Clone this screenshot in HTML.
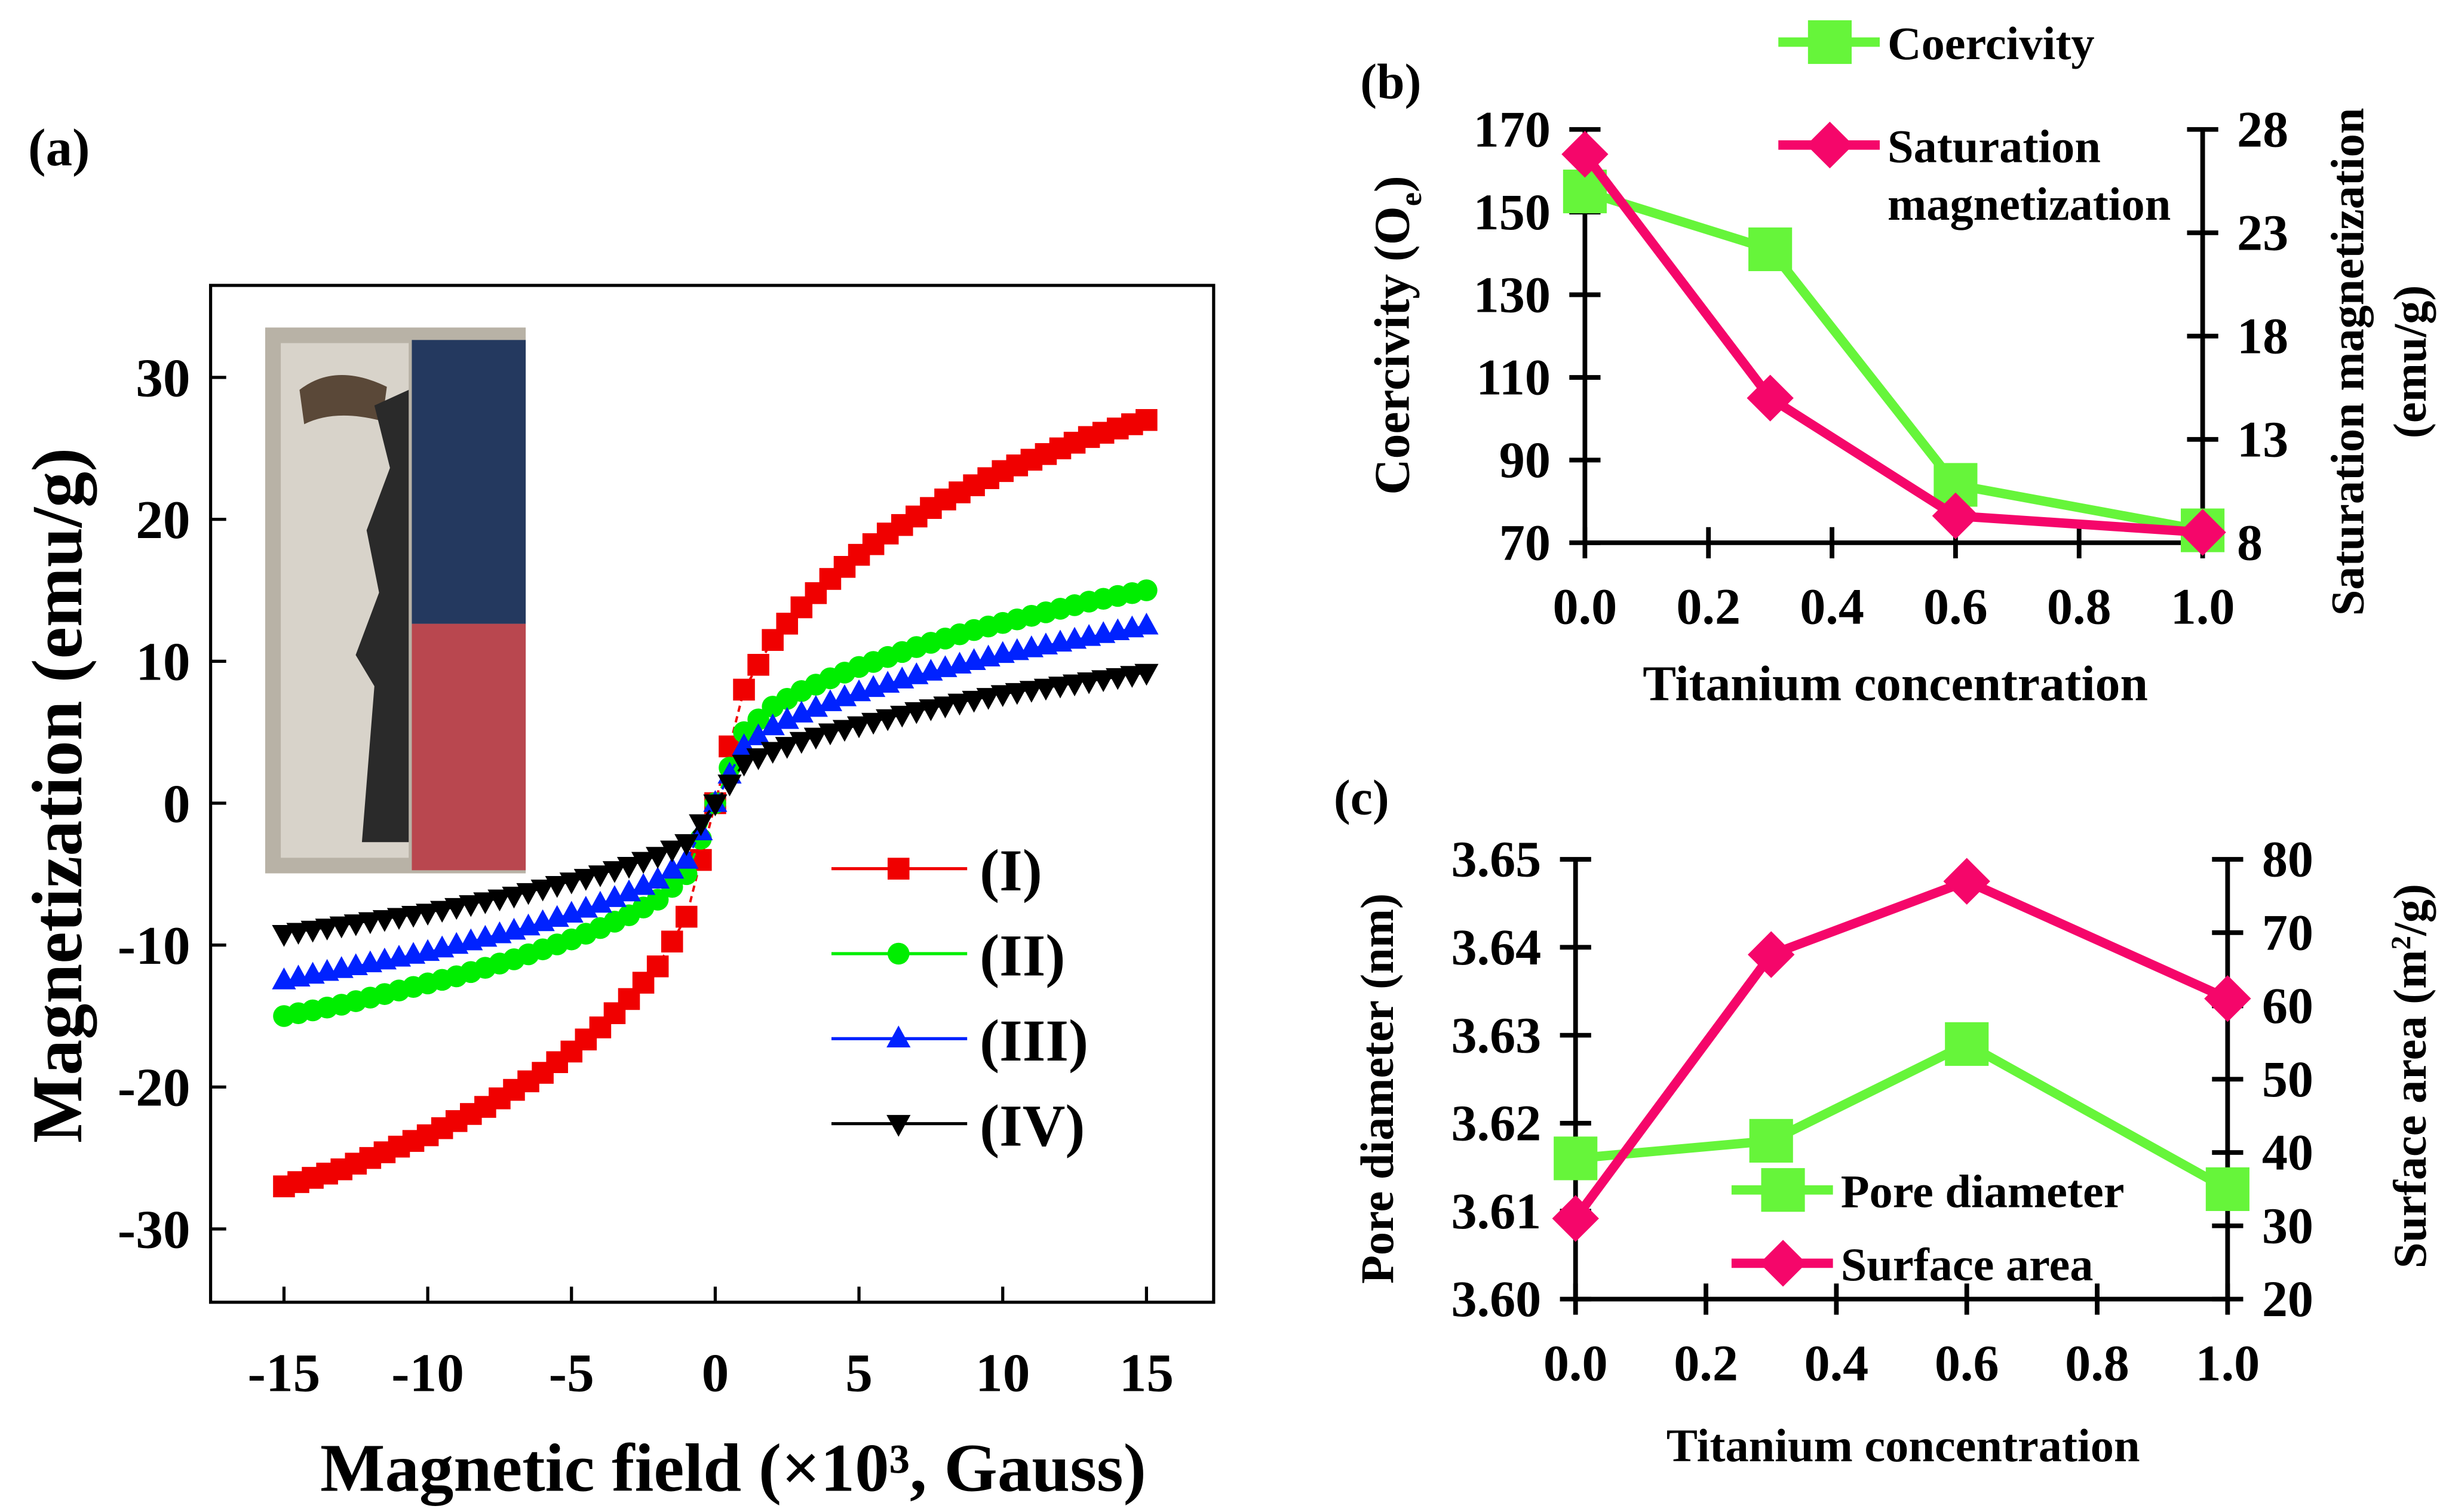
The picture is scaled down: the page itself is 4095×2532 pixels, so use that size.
<!DOCTYPE html>
<html><head><meta charset="utf-8"><style>
html,body{margin:0;padding:0;background:#fff}
svg{display:block}
text{font-family:"Liberation Serif",serif;font-weight:bold;fill:#000}
</style></head><body>
<svg id="fig" xmlns="http://www.w3.org/2000/svg" width="4095" height="2532" viewBox="0 0 1568 969.5" preserveAspectRatio="none">
<g id="pa"></g>
<g id="pb"></g>
<g id="pc"></g>
</svg>
<script>
// ---- Panel (a) data ----
const fieldA = [0,1,2,3,4,5,6,7,8,9,10,11,12,13,14,15];
const magI   = [0,8,11.5,13.8,15.8,17.5,19,20.2,21.4,22.4,23.4,24.2,25,25.8,26.4,27];
const magII  = [0,5,6.8,7.9,8.8,9.6,10.3,11,11.6,12.2,12.7,13.2,13.7,14.2,14.6,15];
const magIII = [0,4,5.4,6.3,7.1,7.8,8.4,9,9.5,10,10.5,10.9,11.3,11.7,12.1,12.5];
const magIV  = [0,2.8,3.7,4.4,5,5.5,6,6.5,6.9,7.3,7.7,8,8.3,8.6,8.9,9.2];
const xTicksA = [-15,-10,-5,0,5,10,15];
const yTicksA = [30,20,10,0,-10,-20,-30];
// ---- Panel (b) data ----
const tiConc = [0,0.3,0.6,1.0];
const coercivity = [155,141,84,73];
const satMag = [26.8,15,9.3,8.5];
const xTicksB = [0,0.2,0.4,0.6,0.8,1.0];
const yLeftB = [70,90,110,130,150,170];
const yRightB = [8,13,18,23,28];
// ---- Panel (c) data ----
const poreDia = [3.616,3.618,3.629,3.6125];
const surfArea = [31,67,77,61];
const yLeftC = [3.60,3.61,3.62,3.63,3.64,3.65];
const yRightC = [20,30,40,50,60,70,80];

const NS="http://www.w3.org/2000/svg";
function mk(p,tag,at,txt){const e=document.createElementNS(NS,tag);for(const k in at)e.setAttribute(k,at[k]);if(txt!==undefined)e.textContent=txt;p.appendChild(e);return e;}
const GREEN="#66f53a", PINK="#f5066a";

// ===== Panel a =====
const pa=document.getElementById('pa');
const xa=v=>458.5+v*18.43, ya=v=>515-v*9.1;
let e;
e=mk(pa,'rect',{x:135,y:183,width:643,height:652,fill:'none',stroke:'#000','stroke-width':2});


e=mk(pa,'text',{x:18,y:106,'font-size':34},'(a)');


xTicksA.forEach(v=>{mk(pa,'line',{x1:xa(v),x2:xa(v),y1:835,y2:825,stroke:'#000','stroke-width':2});
 e=mk(pa,'text',{x:xa(v),y:892,'font-size':35,'text-anchor':'middle'},String(v));
 
 });
yTicksA.forEach(v=>{mk(pa,'line',{x1:135,x2:145,y1:ya(v),y2:ya(v),stroke:'#000','stroke-width':2});
 e=mk(pa,'text',{x:122,y:ya(v)+12,'font-size':35,'text-anchor':'end'},String(v));
 
 });
e=mk(pa,'text',{x:0,y:0,'font-size':46,'text-anchor':'middle',transform:'translate(52,510) rotate(-90)'},'Magnetization (emu/g)');


e=mk(pa,'text',{x:470,y:956,'font-size':44,'text-anchor':'middle'},'Magnetic field (×10³, Gauss)');


// inset photo
const ph=mk(pa,'g',{});


mk(ph,'rect',{x:170,y:210,width:167,height:350,fill:'#b8b2a6'});
mk(ph,'rect',{x:180,y:220,width:82,height:330,fill:'#d8d3ca'});
mk(ph,'path',{d:'M192 250 Q215 232 248 248 L245 270 Q215 262 195 272 Z',fill:'#5a4838'});
mk(ph,'path',{d:'M240 260 L262 250 L262 540 L232 540 L240 440 L228 420 L243 380 L235 340 L250 300 Z',fill:'#2a2a2a'});
mk(ph,'rect',{x:264,y:218,width:73,height:182,fill:'#24395f'});
mk(ph,'rect',{x:264,y:400,width:73,height:158,fill:'#b9474f'});
// series
const series=[{v:magI,c:'#f00000',m:'sq',n:'I'},{v:magII,c:'#00ee00',m:'ci',n:'II'},{v:magIII,c:'#0022ff',m:'tu',n:'III'},{v:magIV,c:'#000',m:'td',n:'IV'}];
function marker(g,m,x,y,c,s){
 if(m==='sq')return mk(g,'rect',{x:x-s,y:y-s,width:2*s,height:2*s,fill:c});
 if(m==='ci')return mk(g,'circle',{cx:x,cy:y,r:s,fill:c});
 if(m==='tu')return mk(g,'polygon',{points:`${x},${y-s*1.2} ${x-s*1.1},${y+s*0.8} ${x+s*1.1},${y+s*0.8}`,fill:c});
 return mk(g,'polygon',{points:`${x},${y+s*1.2} ${x-s*1.1},${y-s*0.8} ${x+s*1.1},${y-s*0.8}`,fill:c});
}
series.forEach(s=>{
 const g=mk(pa,'g',{});
 
 
 const pts=[];
 for(let i=fieldA.length-1;i>0;i--)pts.push([-fieldA[i],-s.v[i]]);
 for(let i=0;i<fieldA.length;i++)pts.push([fieldA[i],s.v[i]]);
 mk(g,'polyline',{points:pts.map(p=>xa(p[0])+','+ya(p[1])).join(' '),fill:'none',stroke:s.c,'stroke-width':1.5,'stroke-dasharray':'4 3'});
 for(let i=0;i<pts.length;i++){
   const p=pts[i];marker(g,s.m,xa(p[0]),ya(p[1]),s.c,7);
   if(i<pts.length-1){const q=pts[i+1];marker(g,s.m,xa((p[0]+q[0])/2),ya((p[1]+q[1])/2),s.c,7);}
 }
});
// legend a
series.forEach((s,i)=>{
 const y=557+i*54.5;const g=mk(pa,'g',{});
 
 
 mk(g,'line',{x1:533,x2:620,y1:y,y2:y,stroke:s.c,'stroke-width':2});
 marker(g,s.m,576,y,s.c,7);
 mk(g,'text',{x:628,y:y+14,'font-size':38},'('+s.n+')');
});

// ===== generic dual-axis panel =====
function dual(p,o,d){
 const x=v=>o.x0+v*(o.x1-o.x0), yl=v=>o.yb-(v-o.l0)/(o.l1-o.l0)*(o.yb-o.yt), yr=v=>o.yb-(v-o.r0)/(o.r1-o.r0)*(o.yb-o.yt);
 mk(p,'line',{x1:o.x0,x2:o.x0,y1:o.yt,y2:o.yb,stroke:'#000','stroke-width':3});
 mk(p,'line',{x1:o.x1,x2:o.x1,y1:o.yt,y2:o.yb,stroke:'#000','stroke-width':3});
 mk(p,'line',{x1:o.x0,x2:o.x1,y1:o.yb,y2:o.yb,stroke:'#000','stroke-width':3});
 xTicksB.forEach(v=>{mk(p,'line',{x1:x(v),x2:x(v),y1:o.yb-10,y2:o.yb+10,stroke:'#000','stroke-width':3});
  e=mk(p,'text',{x:x(v),y:o.yb+52,'font-size':33,'text-anchor':'middle'},v.toFixed(1));
  
  });
 o.lt.forEach(v=>{mk(p,'line',{x1:o.x0-10,x2:o.x0+10,y1:yl(v),y2:yl(v),stroke:'#000','stroke-width':3});
  e=mk(p,'text',{x:o.x0-22,y:yl(v)+11,'font-size':33,'text-anchor':'end'},o.lf(v));
  
  });
 o.rt.forEach(v=>{mk(p,'line',{x1:o.x1-10,x2:o.x1+10,y1:yr(v),y2:yr(v),stroke:'#000','stroke-width':3});
  e=mk(p,'text',{x:o.x1+22,y:yr(v)+11,'font-size':33},String(v));
  
  });
 const g1=mk(p,'g',{});
 
 
 mk(g1,'polyline',{points:tiConc.map((t,i)=>x(t)+','+yl(d.g[i])).join(' '),fill:'none',stroke:GREEN,'stroke-width':6});
 tiConc.forEach((t,i)=>mk(g1,'rect',{x:x(t)-14,y:yl(d.g[i])-14,width:28,height:28,fill:GREEN}));
 const g2=mk(p,'g',{});
 
 
 mk(g2,'polyline',{points:tiConc.map((t,i)=>x(t)+','+yr(d.p[i])).join(' '),fill:'none',stroke:PINK,'stroke-width':6});
 tiConc.forEach((t,i)=>{const cx=x(t),cy=yr(d.p[i]);mk(g2,'polygon',{points:`${cx},${cy-15} ${cx+15},${cy} ${cx},${cy+15} ${cx-15},${cy}`,fill:PINK});});
}
function legend(p,x,y,c,sq,label,name){
 const g=mk(p,'g',{});
 
 
 mk(g,'line',{x1:x,x2:x+65,y1:y,y2:y,stroke:c,'stroke-width':6});
 if(sq)mk(g,'rect',{x:x+19,y:y-14,width:28,height:28,fill:c});
 else mk(g,'polygon',{points:`${x+33},${y-15} ${x+48},${y} ${x+33},${y+15} ${x+18},${y}`,fill:c});
 label.forEach((l,i)=>mk(g,'text',{x:x+70,y:y+11+i*37,'font-size':30},l));
}
const pb=document.getElementById('pb');
dual(pb,{x0:1016,x1:1412,yt:83,yb:348,l0:70,l1:170,r0:8,r1:28,lt:yLeftB,rt:yRightB,lf:v=>String(v),gName:'series-coercivity',pName:'series-saturation-magnetization'},{g:coercivity,p:satMag});
e=mk(pb,'text',{x:872,y:63,'font-size':32},'(b)');


legend(pb,1140,27,GREEN,true,['Coercivity'],'legend-coercivity');
legend(pb,1140,93,PINK,false,['Saturation','magnetization'],'legend-saturation');
e=mk(pb,'text',{x:0,y:0,'font-size':32,'text-anchor':'middle',transform:'translate(903,215) rotate(-90)'},'');
e.innerHTML='Coercivity (O<tspan font-size="20" dy="8">e</tspan><tspan dy="-8">)</tspan>';


e=mk(pb,'text',{x:0,y:0,'font-size':30,'text-anchor':'middle',transform:'translate(1515,232) rotate(-90)'},'Saturation magnetization');


e=mk(pb,'text',{x:0,y:0,'font-size':30,'text-anchor':'middle',transform:'translate(1555,232) rotate(-90)'},'(emu/g)');
e=mk(pb,'text',{x:1215,y:449,'font-size':32,'text-anchor':'middle'},'Titanium concentration');



const pc=document.getElementById('pc');
dual(pc,{x0:1010,x1:1428,yt:551,yb:833,l0:3.60,l1:3.65,r0:20,r1:80,lt:yLeftC,rt:yRightC,lf:v=>v.toFixed(2),gName:'series-pore-diameter',pName:'series-surface-area'},{g:poreDia,p:surfArea});
e=mk(pc,'text',{x:855,y:522,'font-size':32},'(c)');


legend(pc,1110,763,GREEN,true,['Pore diameter'],'legend-pore-diameter');
legend(pc,1110,810,PINK,false,['Surface area'],'legend-surface-area');
e=mk(pc,'text',{x:0,y:0,'font-size':30,'text-anchor':'middle',transform:'translate(893,698) rotate(-90)'},'Pore diameter (nm)');


e=mk(pc,'text',{x:0,y:0,'font-size':30,'text-anchor':'middle',transform:'translate(1555,690) rotate(-90)'},'');
e.innerHTML='Surface area (m<tspan font-size="18" dy="-10">2</tspan><tspan dy="10">/g)</tspan>';


e=mk(pc,'text',{x:1220,y:937,'font-size':30,'text-anchor':'middle'},'Titanium  concentration');


</script>
</body></html>
